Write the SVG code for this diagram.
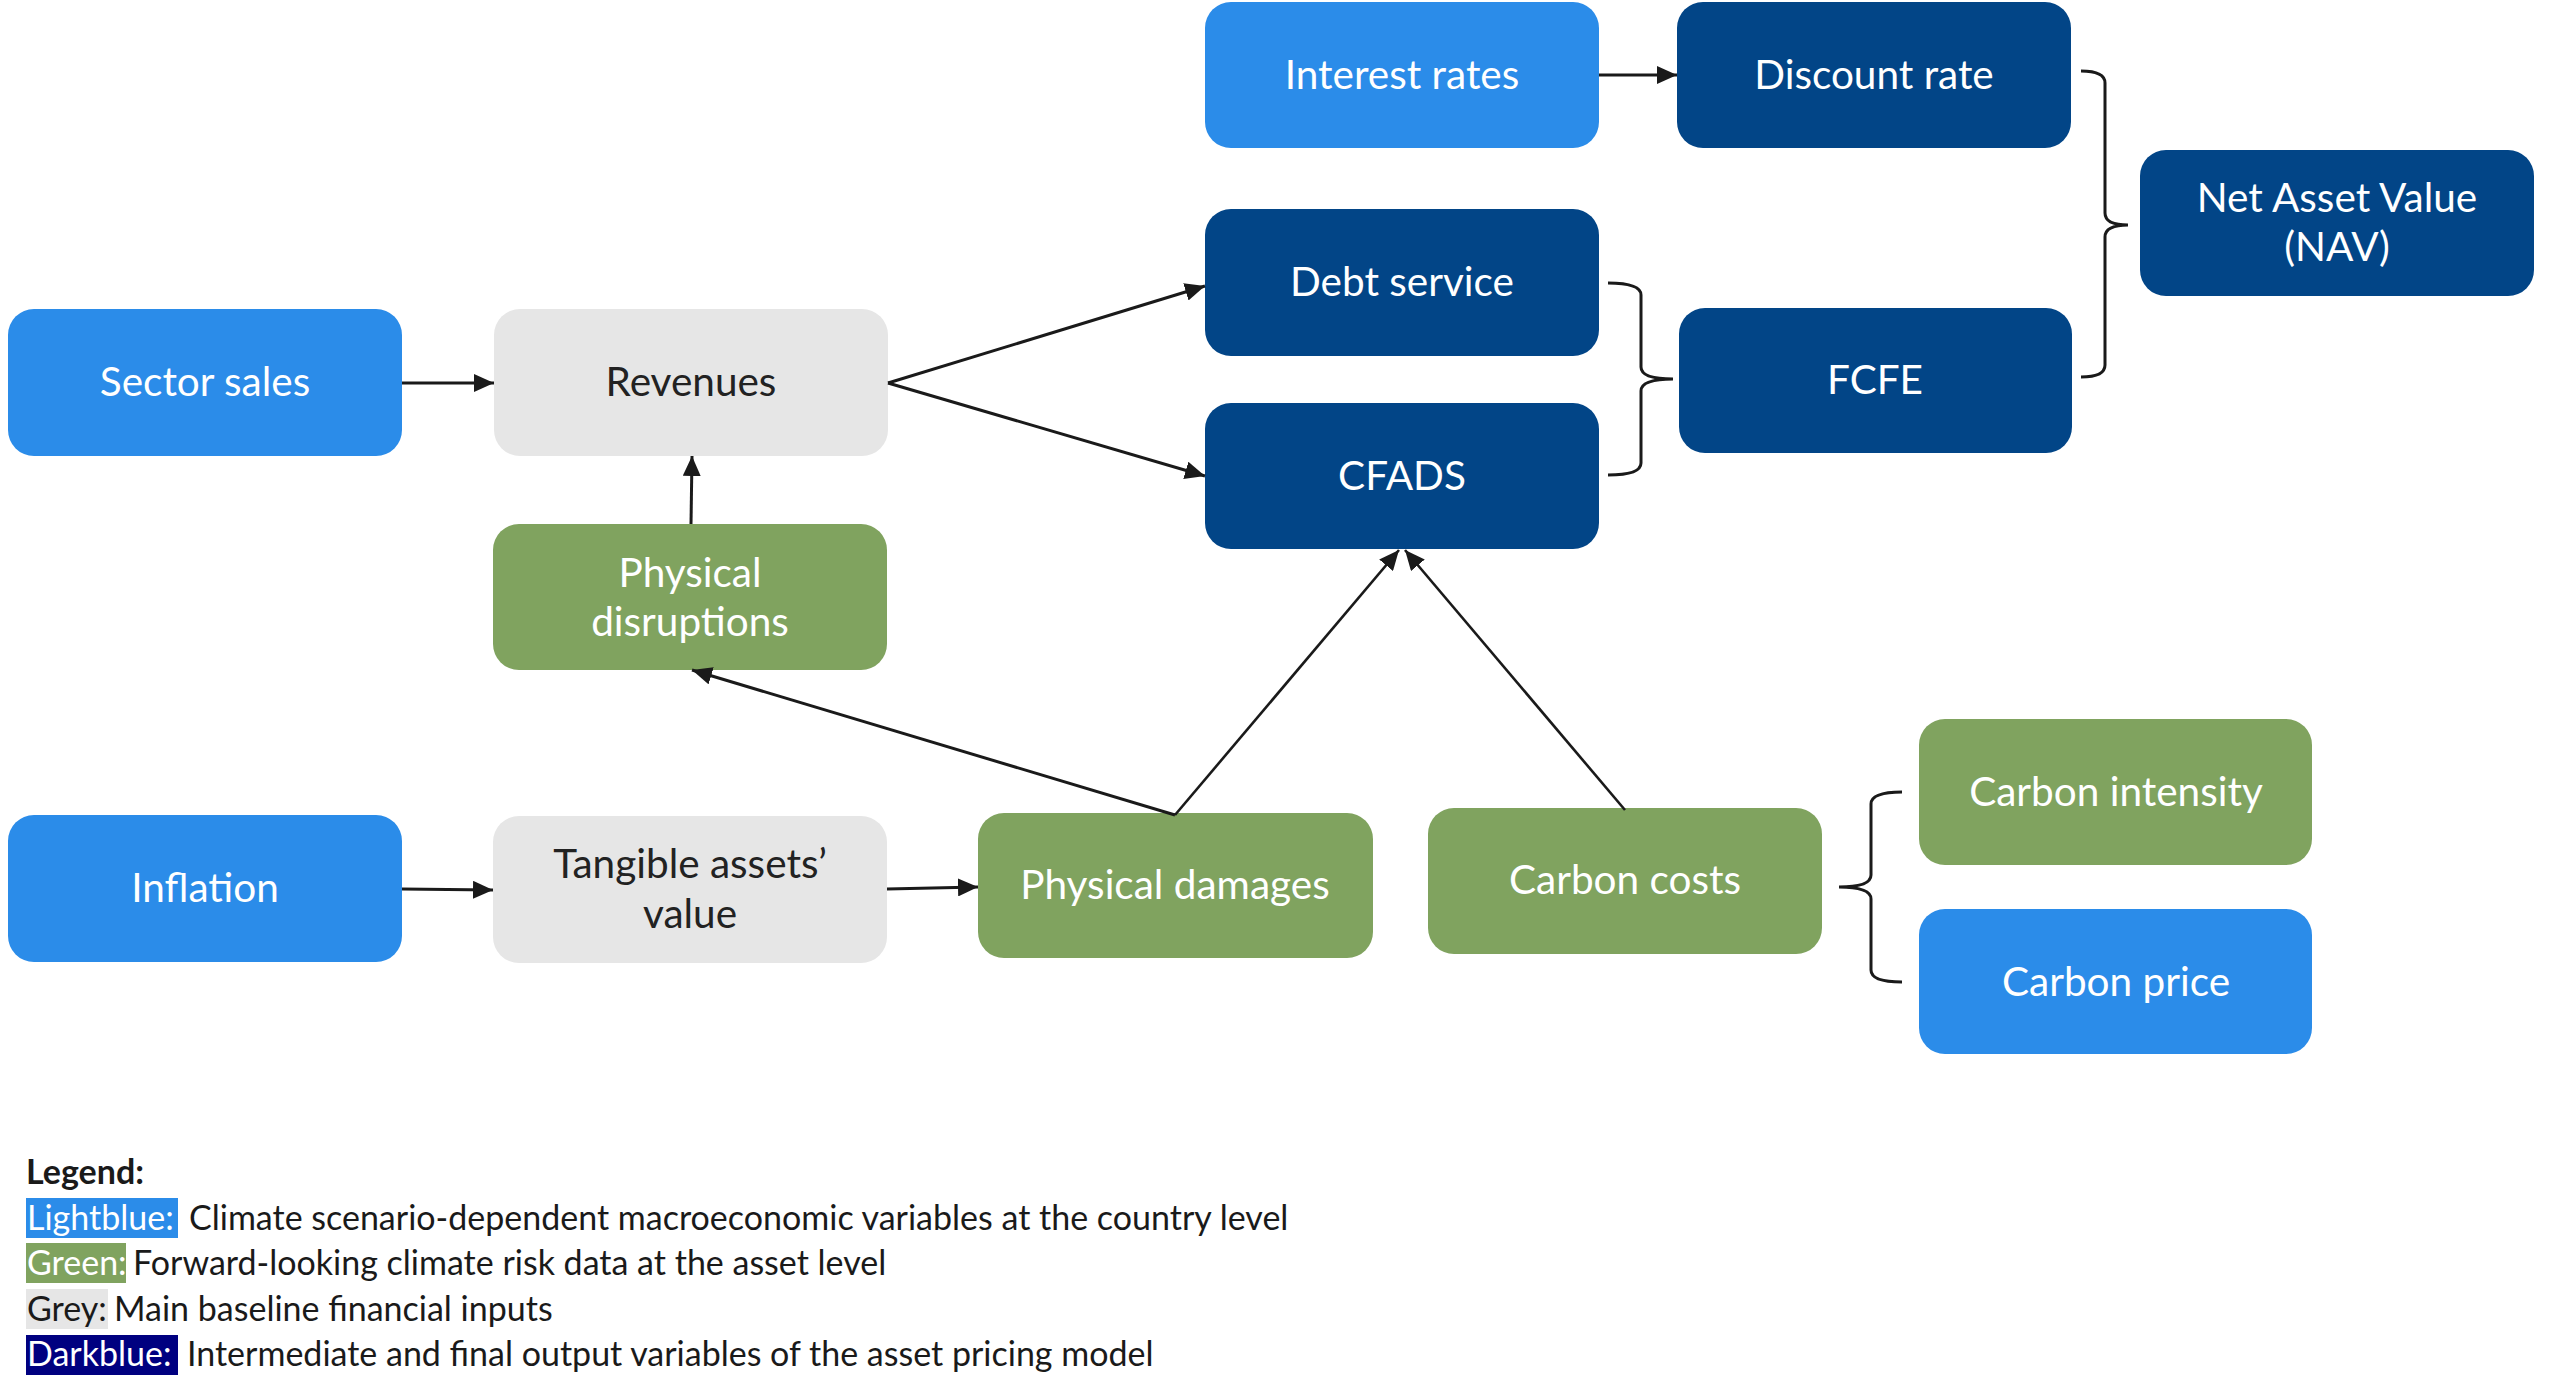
<svg xmlns="http://www.w3.org/2000/svg" width="2560" height="1398" viewBox="0 0 2560 1398">
<style>
.lb{fill:#2b8ce9}
.db{fill:#024587}
.gr{fill:#80a35f}
.gy{fill:#e6e6e6}
.t{font-family:Lato,"Open Sans","Liberation Sans",sans-serif;font-size:40.5px;text-anchor:middle;fill:#ffffff}
.td{fill:#222222}
.c{stroke:#1a1a1a;stroke-width:3;fill:none}
.thin{stroke-width:2.6}
.lg{font-family:Lato,"Open Sans","Liberation Sans",sans-serif;font-size:34px;fill:#1a1a1a}
</style>
<defs>
<marker id="ah" markerUnits="userSpaceOnUse" markerWidth="22" markerHeight="18" refX="20" refY="9" orient="auto">
<path d="M0,0 L20,9 L0,18 Z" fill="#1a1a1a"/>
</marker>
</defs>
<rect width="2560" height="1398" fill="#ffffff"/>

<g id="interest-rates"><rect class="lb" x="1205" y="2" width="394" height="146" rx="26"/><text class="t" x="1402" y="89">Interest rates</text></g>
<g id="discount-rate"><rect class="db" x="1677" y="2" width="394" height="146" rx="26"/><text class="t" x="1874" y="89">Discount rate</text></g>
<g id="nav"><rect class="db" x="2140" y="150" width="394" height="146" rx="26"/><text class="t" x="2337" y="212">Net Asset Value</text><text class="t" x="2337" y="261">(NAV)</text></g>
<g id="debt-service"><rect class="db" x="1205" y="209" width="394" height="147" rx="26"/><text class="t" x="1402" y="296">Debt service</text></g>
<g id="cfads"><rect class="db" x="1205" y="403" width="394" height="146" rx="26"/><text class="t" x="1402" y="490">CFADS</text></g>
<g id="fcfe"><rect class="db" x="1679" y="308" width="393" height="145" rx="26"/><text class="t" x="1875" y="394">FCFE</text></g>
<g id="sector-sales"><rect class="lb" x="8" y="309" width="394" height="147" rx="26"/><text class="t" x="205" y="396">Sector sales</text></g>
<g id="revenues"><rect class="gy" x="494" y="309" width="394" height="147" rx="26"/><text class="t td" x="691" y="396">Revenues</text></g>
<g id="physical-disruptions"><rect class="gr" x="493" y="524" width="394" height="146" rx="26"/><text class="t" x="690" y="587">Physical</text><text class="t" x="690" y="636">disruptions</text></g>
<g id="inflation"><rect class="lb" x="8" y="815" width="394" height="147" rx="26"/><text class="t" x="205" y="902">Inflation</text></g>
<g id="tangible-assets"><rect class="gy" x="493" y="816" width="394" height="147" rx="26"/><text class="t td" x="690" y="878">Tangible assets’</text><text class="t td" x="690" y="928">value</text></g>
<g id="physical-damages"><rect class="gr" x="978" y="813" width="395" height="145" rx="26"/><text class="t" x="1175" y="899">Physical damages</text></g>
<g id="carbon-costs"><rect class="gr" x="1428" y="808" width="394" height="146" rx="26"/><text class="t" x="1625" y="894">Carbon costs</text></g>
<g id="carbon-intensity"><rect class="gr" x="1919" y="719" width="393" height="146" rx="26"/><text class="t" x="2116" y="806">Carbon intensity</text></g>
<g id="carbon-price"><rect class="lb" x="1919" y="909" width="393" height="145" rx="26"/><text class="t" x="2116" y="996">Carbon price</text></g>

<g id="connectors">
<line class="c" x1="1599" y1="75" x2="1677" y2="75" marker-end="url(#ah)"/>
<line class="c" x1="402" y1="383" x2="494" y2="383" marker-end="url(#ah)"/>
<line class="c" x1="888" y1="383" x2="1205" y2="286" marker-end="url(#ah)"/>
<line class="c" x1="888" y1="383" x2="1205" y2="476" marker-end="url(#ah)"/>
<line class="c" x1="691" y1="524" x2="692" y2="456" marker-end="url(#ah)"/>
<line class="c" x1="1175" y1="815" x2="692" y2="670" marker-end="url(#ah)"/>
<line class="c thin" x1="1175" y1="815" x2="1399" y2="550" marker-end="url(#ah)"/>
<line class="c thin" x1="1625" y1="810" x2="1405" y2="550" marker-end="url(#ah)"/>
<line class="c" x1="402" y1="889" x2="493" y2="890" marker-end="url(#ah)"/>
<line class="c" x1="887" y1="889" x2="978" y2="887" marker-end="url(#ah)"/>
<path class="c" d="M1608,283 Q1641,283 1641,295 L1641,367 Q1641,379 1673,379 Q1641,379 1641,391 L1641,463 Q1641,475 1608,475"/>
<path class="c" d="M2081,71 Q2105,71 2105,83 L2105,213 Q2105,225 2128,225 Q2105,225 2105,237 L2105,365 Q2105,377 2081,377"/>
<path class="c" d="M1902,792 Q1871,792 1871,804 L1871,875 Q1871,887 1839,887 Q1871,887 1871,899 L1871,970 Q1871,982 1902,982"/>
</g>

<g id="legend">
<text class="lg" x="26" y="1184" font-weight="bold">Legend:</text>
<rect x="26" y="1198" width="152" height="40" fill="#2b8ce9"/>
<text class="lg" x="27" y="1230" style="fill:#ffffff">Lightblue:</text>
<text class="lg" x="189" y="1230">Climate scenario-dependent macroeconomic variables at the country level</text>
<rect x="26" y="1243" width="100" height="40" fill="#80a35f"/>
<text class="lg" x="27" y="1275" style="fill:#ffffff">Green:</text>
<text class="lg" x="133" y="1275">Forward-looking climate risk data at the asset level</text>
<rect x="26" y="1289" width="82" height="40" fill="#e6e6e6"/>
<text class="lg" x="27" y="1321">Grey:</text>
<text class="lg" x="114" y="1321">Main baseline financial inputs</text>
<rect x="26" y="1335" width="152" height="40" fill="#000080"/>
<text class="lg" x="27" y="1366" style="fill:#ffffff">Darkblue:</text>
<text class="lg" x="187" y="1366">Intermediate and final output variables of the asset pricing model</text>
</g>
</svg>
